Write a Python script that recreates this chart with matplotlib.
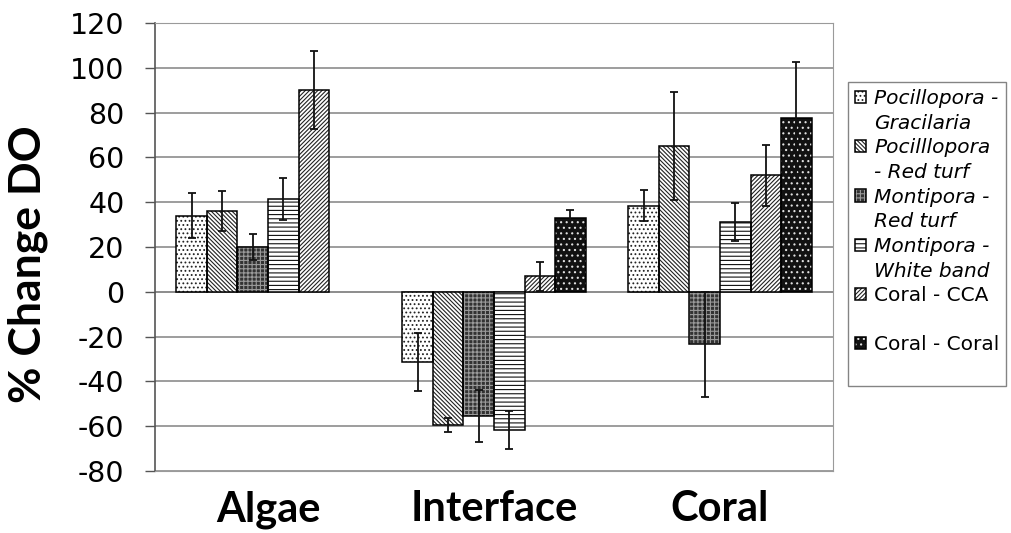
import numpy as np
import matplotlib.pyplot as plt
from matplotlib.patches import Patch

# data
categories = ["Algae", "Interface", "Coral"]
series = ["Pocillopora - Gracilaria", "Pocilllopora - Red turf", "Montipora - Red turf",
          "Montipora - White band", "Coral - CCA", "Coral - Coral"]
legend_lines = [("Pocillopora -", "Gracilaria"), ("Pocilllopora", "- Red turf"),
                ("Montipora -", "Red turf"), ("Montipora -", "White band"),
                ("Coral - CCA", ""), ("Coral - Coral", "")]
italic_series = [True, True, True, True, False, False]

means = [
    [34, -31.5, 38.5],
    [36, -59.5, 65],
    [20, -55.5, -23.5],
    [41.5, -61.5, 31],
    [90, 7, 52],
    [np.nan, 33, 77.5],
]
errors = [
    [10, 13, 7],
    [9, 3, 24],
    [6, 11.5, 23.5],
    [9.5, 8.5, 8.5],
    [17.5, 6.5, 13.5],
    [np.nan, 3.5, 25],
]

# fill / hatch look for each series
faces = ["white", "white", "#333333", "white", "white", "#111111"]
hatch_cols = ["#222222", "#222222", "#9a9a9a", "#111111", "#222222", "#e0e0e0"]
hatches = ["....", "\\" * 8, "++++", "----", "/" * 8, "..."]

plt.rcParams['hatch.linewidth'] = 0.8
plt.rcParams['axes.unicode_minus'] = False

fig = plt.figure(figsize=(10.12, 5.33), dpi=100)
ax = fig.add_axes([155 / 1012, 1 - 471 / 533, 678 / 1012, 448 / 533])

x = np.arange(len(categories))
w = 0.135
handles, labels = [], []
blank = Patch(facecolor='none', edgecolor='none')
for i, name in enumerate(series):
    pos = x + (i - 2.5) * w
    vals = np.array(means[i], dtype=float)
    hb = ax.bar(pos, vals, w, color=faces[i], edgecolor=hatch_cols[i],
                hatch=hatches[i], linewidth=0, zorder=2)
    ob = ax.bar(pos, vals, w, fill=False, edgecolor='black', linewidth=1.1, zorder=3)
    ax.errorbar(pos, vals, yerr=errors[i], fmt='none', ecolor='#111111',
                elinewidth=1.3, capsize=3, capthick=1.3, zorder=4)
    first, second = legend_lines[i]
    handles += [(hb[1], ob[1]), blank]
    labels += [first, second if second else " "]

ax.set_xlim(-0.5, 2.5)
ax.set_ylim(-80, 120)
ax.set_yticks(np.arange(-80, 121, 20))
ax.set_xticks(x)
ax.set_xticklabels(categories, fontsize=30, fontweight='bold', family='Lato')
ax.tick_params(axis='x', length=0, pad=14)
ax.tick_params(axis='y', labelsize=20.5, length=7, width=1, color='#555555', pad=15)

ax.yaxis.grid(True, color='#8c8c8c', linewidth=1.2)
ax.set_axisbelow(True)
ax.axhline(0, color='#8c8c8c', linewidth=1.2, zorder=1)
for side in ['top', 'right', 'bottom']:
    ax.spines[side].set_color('#9a9a9a')
ax.spines['left'].set_color('#555555')
ax.spines['left'].set_linewidth(1.2)

ax.set_ylabel("% Change DO", fontsize=32, fontweight='bold', family='Lato')
ax.yaxis.set_label_coords(-0.158, 0.462)

leg = fig.legend(handles, labels, loc='upper left',
                 bbox_to_anchor=(848 / 1012, 1 - 82 / 533), fontsize=14.5,
                 frameon=True, fancybox=False, edgecolor='#666666',
                 handlelength=0.55, handleheight=0.55, handletextpad=0.4,
                 labelspacing=0.28, borderpad=0.35, borderaxespad=0)
leg.get_frame().set_linewidth(1.0)
for k, t in enumerate(leg.get_texts()):
    if italic_series[k // 2]:
        t.set_fontstyle('italic')

fig.savefig("out.png", dpi=100)
